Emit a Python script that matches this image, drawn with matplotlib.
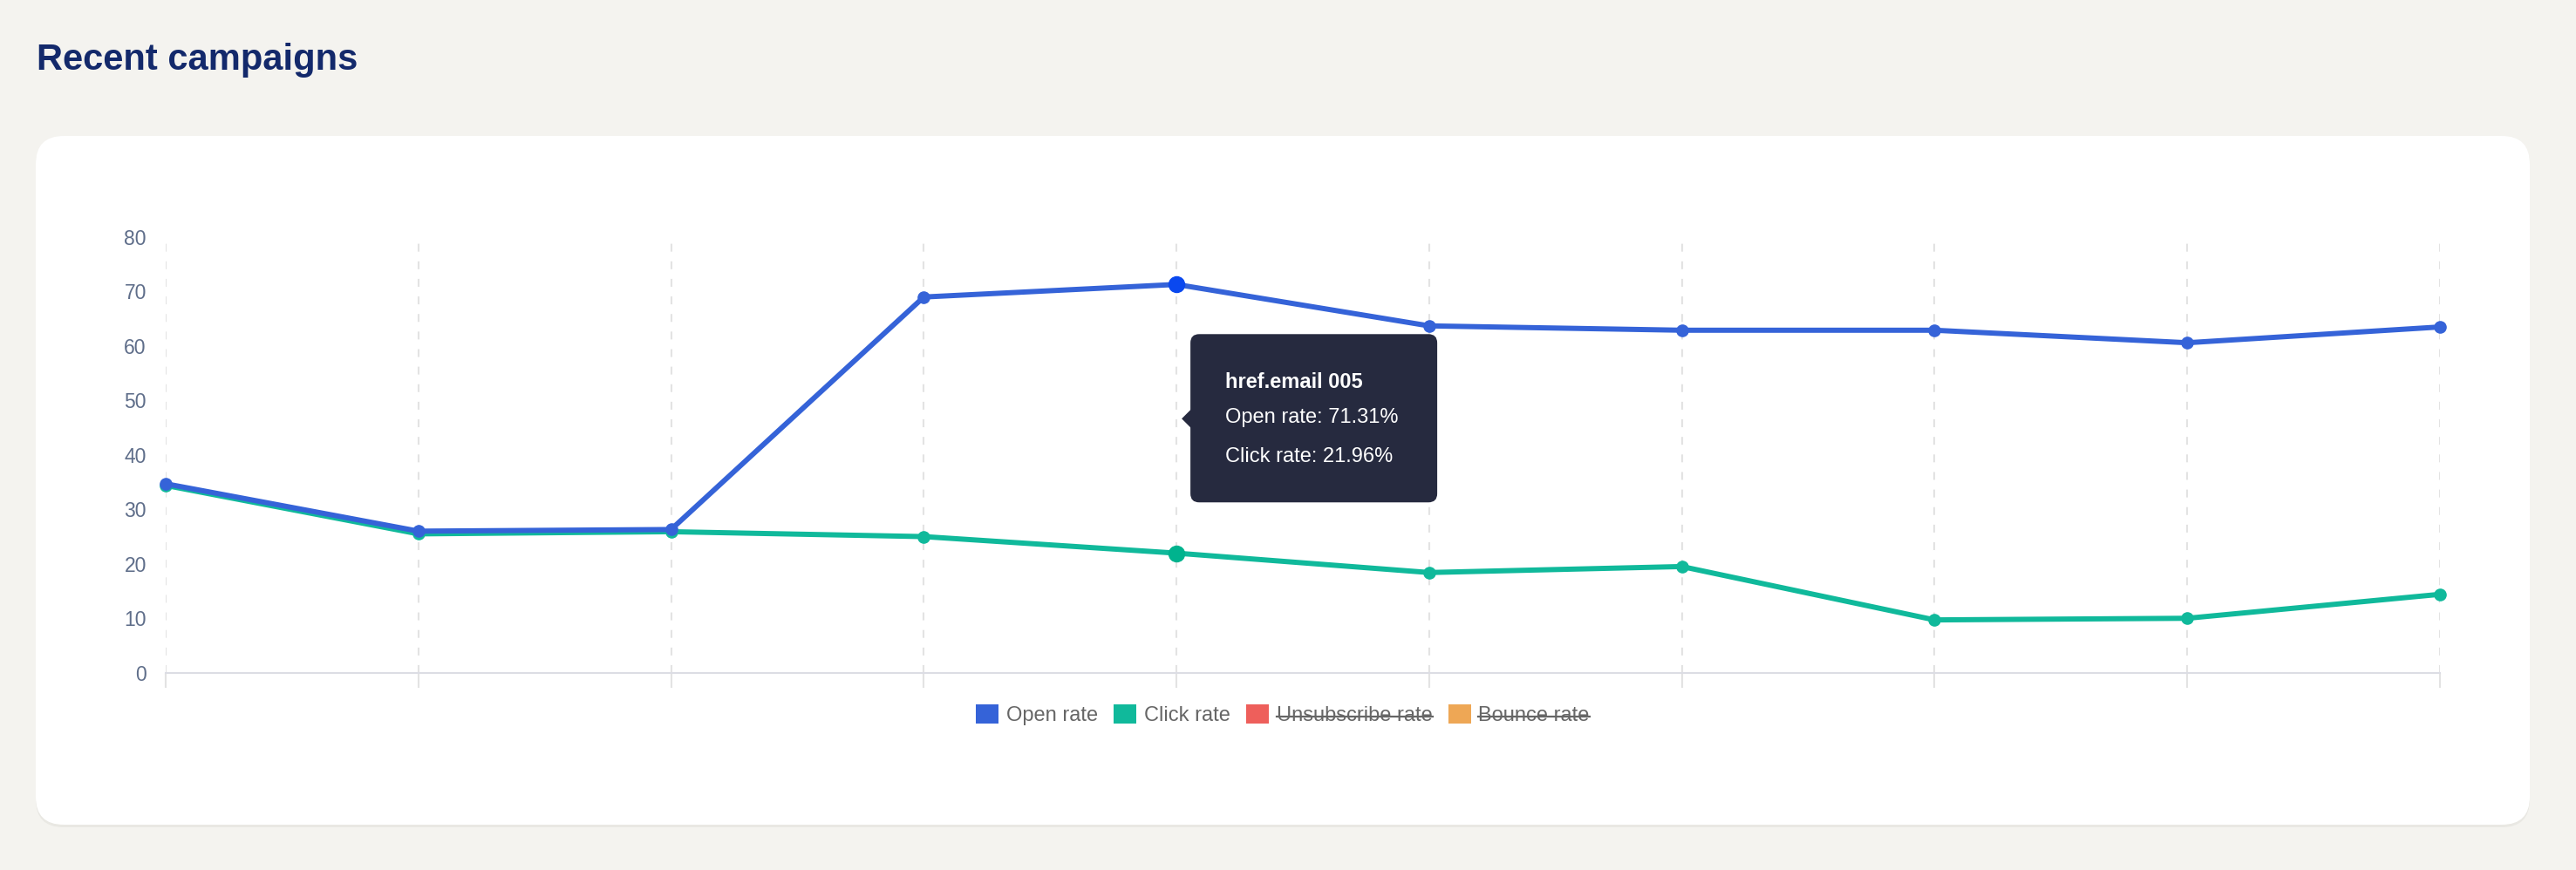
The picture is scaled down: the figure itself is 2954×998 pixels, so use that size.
import matplotlib
matplotlib.use("Agg")
import matplotlib.pyplot as plt
from matplotlib.patches import FancyBboxPatch, Polygon, Patch
from matplotlib.lines import Line2D
from matplotlib.transforms import IdentityTransform

# data
campaigns = ["href.email 001", "href.email 002", "href.email 003", "href.email 004",
             "href.email 005", "href.email 006", "href.email 007", "href.email 008",
             "href.email 009", "href.email 010"]
open_rate = [34.7, 26.0, 26.3, 69.0, 71.31, 63.7, 62.9, 62.9, 60.6, 63.5]
click_rate = [34.4, 25.5, 25.9, 25.0, 21.96, 18.4, 19.5, 9.7, 10.0, 14.4]
y_ticks = [0, 10, 20, 30, 40, 50, 60, 70, 80]
series_names = ["Open rate", "Click rate", "Unsubscribe rate", "Bounce rate"]
series_colors = ["#3563d8", "#10b99b", "#ee5f5b", "#eea755"]
series_hidden = [False, False, True, True]
hovered = 4

W, H, DPI = 2954, 998, 100
BG = "#f4f3ef"

plt.rcParams['font.family'] = ['Liberation Sans', 'DejaVu Sans']
plt.rcParams['lines.scale_dashes'] = False

fig = plt.figure(figsize=(W / DPI, H / DPI), dpi=DPI, facecolor=BG)
px = IdentityTransform()

# card with a faint shadow
fig.add_artist(FancyBboxPatch((41, H - 949), 2860, 792, boxstyle="round,pad=0,rounding_size=32",
                              transform=px, fc="#e9e8e3", ec="none", zorder=0))
fig.add_artist(FancyBboxPatch((41, H - 946), 2860, 790, boxstyle="round,pad=0,rounding_size=32",
                              transform=px, fc="white", ec="none", zorder=0))

fig.text(42, H - 80, "Recent campaigns", transform=px, fontsize=30, weight="bold",
         color="#13296b", va="baseline")

# plot area
x0, x1, ytop, ybot = 190, 2798, 272, 771.7
ax = fig.add_axes([x0 / W, (H - ybot) / H, (x1 - x0) / W, (ybot - ytop) / H])
ax.set_facecolor("none")
ax.set_xlim(0, len(campaigns) - 1)
ax.set_ylim(y_ticks[0], y_ticks[-1])
ax.set_xticks(range(len(campaigns)))
ax.set_xticklabels([])
ax.set_yticks(y_ticks)
ax.xaxis.grid(True, color="#e3e3e3", lw=1.5, linestyle=(0, (6.5, 8)))
ax.yaxis.grid(False)
for s in ["top", "right", "left"]:
    ax.spines[s].set_visible(False)
ax.spines["bottom"].set_color("#dcdde4")
ax.spines["bottom"].set_linewidth(1.5)
ax.tick_params(axis="x", direction="out", length=12, width=1.5, color="#e3e3e3")
ax.tick_params(axis="y", length=0, pad=16, labelsize=16.5, labelcolor="#5f6e8a")

xs = list(range(len(campaigns)))
ax.plot(xs, click_rate, color=series_colors[1], lw=4.3, marker="o", ms=9.5,
        zorder=3, clip_on=False, solid_joinstyle="round")
ax.plot(xs, open_rate, color=series_colors[0], lw=4.3, marker="o", ms=9.5,
        zorder=4, clip_on=False, solid_joinstyle="round")
ax.plot(xs[hovered], click_rate[hovered], "o", ms=13, color="#00b38e", zorder=5, clip_on=False)
ax.plot(xs[hovered], open_rate[hovered], "o", ms=13, color="#0a48ef", zorder=5, clip_on=False)

# legend, hidden series are struck through
handles = [Patch(fc=c, ec="none") for c in series_colors]
leg = fig.legend(handles, series_names, loc="center", bbox_to_anchor=(1471 / W, (H - 820) / H),
                 ncol=4, frameon=False, fontsize=17, handlelength=1.1, handleheight=1.1,
                 handletextpad=0.38, columnspacing=0.76, labelcolor="#666666")

fig.canvas.draw()
renderer = fig.canvas.get_renderer()
for t, hidden in zip(leg.get_texts(), series_hidden):
    if hidden:
        bb = t.get_window_extent(renderer)
        yy = bb.y0 + bb.height * 0.47
        fig.add_artist(Line2D([bb.x0, bb.x1], [yy, yy], transform=px, color="#666666", lw=1.6))

# tooltip next to the hovered point
hx, hy = ax.transData.transform((xs[hovered], open_rate[hovered]))
tip_bg = "#262a3f"
fig.add_artist(FancyBboxPatch((hx + 16, hy - 250), 283, 193, boxstyle="round,pad=0,rounding_size=10",
                              transform=px, fc=tip_bg, ec="none", zorder=10))
fig.add_artist(Polygon([(hx + 6, hy - 154), (hx + 17, hy - 143), (hx + 17, hy - 165)],
                       closed=True, transform=px, fc=tip_bg, ec="none", zorder=10))
fig.text(hx + 56, hy - 119, campaigns[hovered], transform=px, fontsize=17, weight="bold",
         color="white", va="baseline", zorder=11)
fig.text(hx + 56, hy - 159, f"Open rate: {open_rate[hovered]:.2f}%", transform=px, fontsize=17,
         color="white", va="baseline", zorder=11)
fig.text(hx + 56, hy - 204, f"Click rate: {click_rate[hovered]:.2f}%", transform=px, fontsize=17,
         color="white", va="baseline", zorder=11)

fig.savefig("out.png", dpi=DPI, facecolor=fig.get_facecolor())
